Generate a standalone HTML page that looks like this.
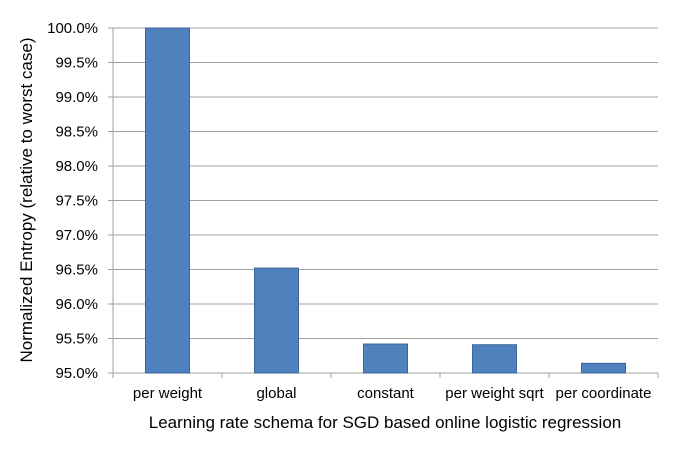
<!DOCTYPE html>
<html><head><meta charset="utf-8"><style>
body{margin:0;background:#fff;}
svg text{font-family:"Liberation Sans",sans-serif;fill:#000;}
</style></head><body>
<svg id="chart" width="686" height="448" xmlns="http://www.w3.org/2000/svg"></svg>
<script>
const categories=["per weight","global","constant","per weight sqrt","per coordinate"];
const values=[100.0,96.52,95.42,95.41,95.14];
const yTicks=[95.0,95.5,96.0,96.5,97.0,97.5,98.0,98.5,99.0,99.5,100.0];
const NS="http://www.w3.org/2000/svg";
const svg=document.getElementById('chart');
const x0=113,x1=658,yTop=28,yBot=373,ymin=95,ymax=100;
const y=v=>yBot-(v-ymin)/(ymax-ymin)*(yBot-yTop);
const bw=(x1-x0)/categories.length;
function mk(t,a){const e=document.createElementNS(NS,t);for(const k in a)e.setAttribute(k,a[k]);svg.appendChild(e);return e;}
yTicks.forEach(t=>{
 const g=mk('line',{x1:x0-5,x2:x1,y1:y(t),y2:y(t),stroke:'#a0a0a0','stroke-width':1});
 
 
 const l=mk('text',{x:x0-15,y:y(t)+5,'text-anchor':'end','font-size':15});
 l.textContent=t.toFixed(1)+'%';
 
 
});
const ax=mk('line',{x1:x0,x2:x0,y1:yTop,y2:yBot,stroke:'#a0a0a0'});


for(let i=0;i<=categories.length;i++){
 const tk=mk('line',{x1:x0+i*bw,x2:x0+i*bw,y1:yBot,y2:yBot+5,stroke:'#a0a0a0'});
 
 
}
categories.forEach((c,i)=>{
 const cx=x0+(i+0.5)*bw;
 const r=mk('rect',{x:cx-22,y:y(values[i]),width:44,height:yBot-y(values[i]),fill:'#4f81bd',stroke:'#3a6699','stroke-width':1});
 
 
 const t=mk('text',{x:cx,y:yBot+25,'text-anchor':'middle','font-size':15});
 t.textContent=c;
 
 
});
const xt=mk('text',{x:385,y:428,'text-anchor':'middle','font-size':17});
xt.textContent='Learning rate schema for SGD based online logistic regression';


const yt=mk('text',{x:0,y:0,'text-anchor':'middle','font-size':17,transform:'translate(32,200) rotate(-90)'});
yt.textContent='Normalized Entropy (relative to worst case)';


</script>
</body></html>
